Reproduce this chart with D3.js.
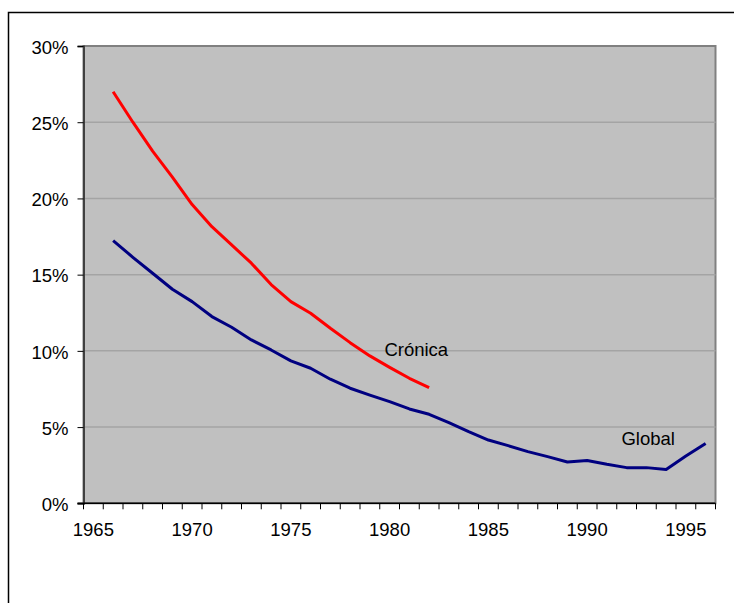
<!DOCTYPE html>
<html>
<head>
<meta charset="utf-8">
<script src="https://cdn.jsdelivr.net/npm/d3@7"></script>
<style>
  html, body { margin: 0; padding: 0; background: #fff; }
  svg { display: block; font-family: "Liberation Sans", Arial, sans-serif; }
</style>
</head>
<body>
<svg id="chart" width="734" height="603"></svg>
<script>
// ---- data ----
const years = d3.range(1965, 1997);           // category axis 1965..1996
const cronicaYears = d3.range(1966, 1983);
const cronicaValues = [0.270, 0.250, 0.231, 0.214, 0.196, 0.1815, 0.1695, 0.1575, 0.1435, 0.1323, 0.1247, 0.1148, 0.1054, 0.0967, 0.0892, 0.0820, 0.0759];
const globalYears = d3.range(1966, 1997);
const globalValues = [0.1723, 0.1614, 0.1509, 0.1404, 0.1323, 0.1225, 0.1155, 0.1072, 0.1006, 0.0934, 0.0886, 0.0814, 0.0755, 0.0710, 0.0667, 0.0619, 0.0584, 0.0529, 0.0470, 0.0415, 0.0378, 0.0339, 0.0306, 0.0271, 0.0281, 0.0256, 0.0234, 0.0234, 0.0222, 0.0310, 0.0393];
const yTicks = [0, 0.05, 0.10, 0.15, 0.20, 0.25, 0.30];
const xLabelYears = [1965, 1970, 1975, 1980, 1985, 1990, 1995];
const seriesLabels = [
  { text: "Crónica", year: 1981, value: 0.0966 },
  { text: "Global",  year: 1993, value: 0.0380 }
];

// ---- layout ----
const svg = d3.select("#chart");
const mLeft = 83.5, mRight = 715.5, mTop = 46, mBottom = 503.3;

svg.append("rect").attr("x", 8.5).attr("y", 12.5).attr("width", 760).attr("height", 640)
  .attr("fill", "#fff").attr("stroke", "#000").attr("stroke-width", 1.5);

const x = d3.scaleBand().domain(years).range([mLeft, mRight]).padding(0);
const y = d3.scaleLinear().domain([0, 0.30]).range([mBottom, mTop]);
const cx = d => x(d) + x.bandwidth() / 2;

// plot area
svg.append("rect").attr("x", mLeft).attr("y", mTop).attr("width", mRight - mLeft).attr("height", mBottom - mTop)
  .attr("fill", "#C0C0C0").attr("stroke", "#808080").attr("stroke-width", 2);

// gridlines
svg.append("g").selectAll("line").data(yTicks.filter(t => t > 0 && t < 0.30)).join("line")
  .attr("x1", mLeft).attr("x2", mRight).attr("y1", d => y(d)).attr("y2", d => y(d))
  .attr("stroke", "#A4A4A4").attr("stroke-width", 1.5);

// y axis
const yAxis = svg.append("g").attr("transform", `translate(${mLeft},0)`)
  .call(d3.axisLeft(y).tickValues(yTicks).tickFormat(d3.format(".0%")).tickSize(6).tickPadding(9));
yAxis.select(".domain").attr("stroke", "#404040").attr("stroke-width", 2);
yAxis.selectAll(".tick line").attr("stroke", "#000").attr("stroke-width", 1);
yAxis.selectAll("text").attr("font-size", "18.5px").attr("fill", "#000").attr("dy", "0.39em")
  .attr("font-family", "'Liberation Sans', Arial, sans-serif");

// x axis line and boundary ticks
const xg = svg.append("g");
xg.append("line").attr("x1", mLeft - 6).attr("x2", mRight).attr("y1", mBottom).attr("y2", mBottom)
  .attr("stroke", "#000").attr("stroke-width", 1.5);
const boundaries = years.map(d => x(d)).concat([x(years[years.length - 1]) + x.bandwidth()]);
xg.selectAll("line.tk").data(boundaries).join("line").attr("class", "tk")
  .attr("x1", d => d).attr("x2", d => d).attr("y1", mBottom).attr("y2", mBottom + 6)
  .attr("stroke", "#000").attr("stroke-width", 1);
const xAxis = svg.append("g").attr("transform", `translate(0,${mBottom})`)
  .call(d3.axisBottom(x).tickValues(xLabelYears).tickSize(0).tickPadding(19.5));
xAxis.select(".domain").remove();
xAxis.selectAll("text").attr("font-size", "18.5px").attr("fill", "#000")
  .attr("font-family", "'Liberation Sans', Arial, sans-serif");

// lines
const line = d3.line().x(d => cx(d[0])).y(d => y(d[1]));
svg.append("path").datum(globalYears.map((yr, i) => [yr, globalValues[i]]))
  .attr("d", line).attr("fill", "none").attr("stroke", "#000080").attr("stroke-width", 3)
  .attr("stroke-linejoin", "round");
svg.append("path").datum(cronicaYears.map((yr, i) => [yr, cronicaValues[i]]))
  .attr("d", line).attr("fill", "none").attr("stroke", "#FF0000").attr("stroke-width", 3)
  .attr("stroke-linejoin", "round");

// series labels
svg.append("g").selectAll("text").data(seriesLabels).join("text")
  .attr("x", d => cx(d.year) - 25).attr("y", d => y(d.value))
  .attr("font-size", "18.5px").attr("fill", "#000").text(d => d.text);
</script>
</body>
</html>
